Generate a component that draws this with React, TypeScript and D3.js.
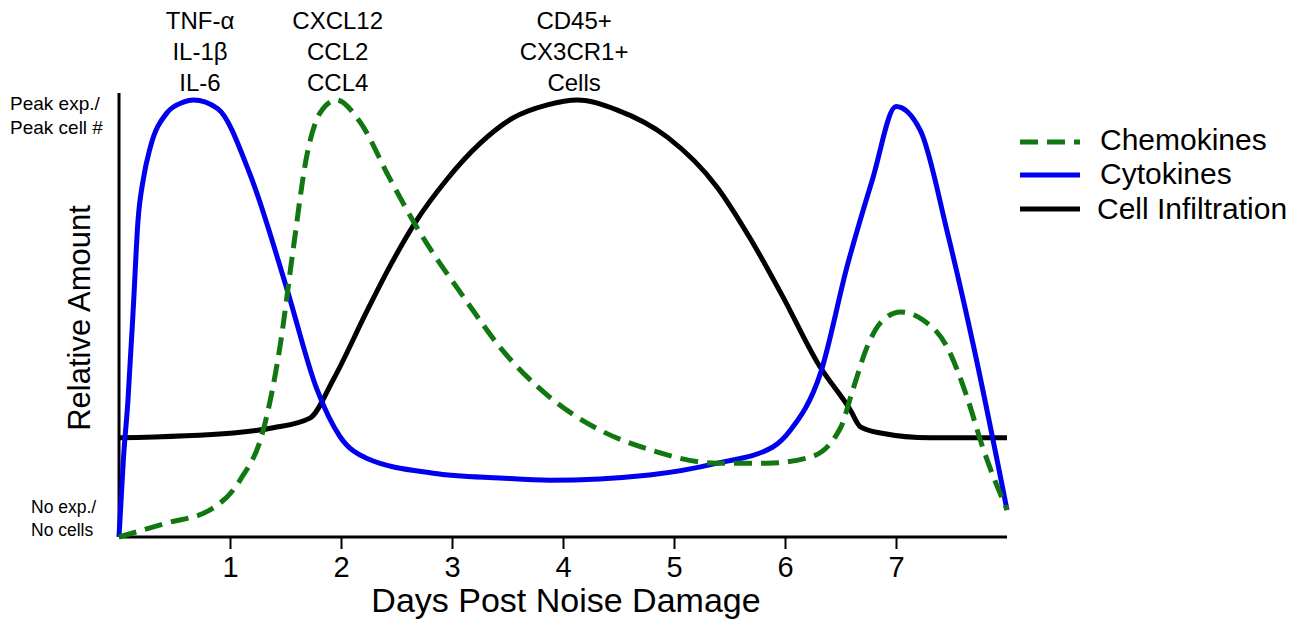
import { useEffect, useRef } from "react";
import * as d3 from "d3";

// values: [day, relative amount 0..1]
const cytokines: [number, number][] = [
  [0, 0], [0.04, 0.18], [0.08, 0.31], [0.13, 0.53], [0.17, 0.72], [0.22, 0.82],
  [0.28, 0.89], [0.43, 0.97], [0.58, 0.995], [0.67, 1.0], [0.89, 0.98],
  [1.18, 0.83], [1.51, 0.57], [1.78, 0.34], [1.99, 0.23], [2.23, 0.18],
  [2.83, 0.146], [3.43, 0.135], [3.88, 0.13], [4.78, 0.142], [5.39, 0.169],
  [5.89, 0.206], [6.05, 0.245], [6.32, 0.375], [6.56, 0.62], [6.79, 0.82],
  [7.0, 0.985], [7.22, 0.93], [7.46, 0.7], [7.7, 0.435], [8.0, 0.062],
];

const chemokines: [number, number][] = [
  [0, 0], [0.43, 0.032], [0.82, 0.062], [1.09, 0.13], [1.3, 0.245], [1.45, 0.435],
  [1.57, 0.66], [1.69, 0.87], [1.81, 0.97], [1.96, 1.0], [2.17, 0.95],
  [2.44, 0.82], [2.68, 0.71], [3.13, 0.54], [3.43, 0.435], [3.88, 0.32],
  [4.33, 0.245], [4.78, 0.2], [5.39, 0.169], [5.84, 0.169], [6.23, 0.183],
  [6.5, 0.25], [6.61, 0.336], [6.74, 0.435], [6.86, 0.49], [7.04, 0.515],
  [7.24, 0.497], [7.46, 0.435], [7.64, 0.32], [7.78, 0.206], [8.0, 0.062],
];

const cellInfiltration: [number, number][] = [
  [0, 0.227], [1.03, 0.238], [1.39, 0.25], [1.72, 0.272], [1.93, 0.36],
  [2.23, 0.515], [2.41, 0.605], [2.67, 0.72], [2.95, 0.817], [3.25, 0.9],
  [3.55, 0.959], [3.86, 0.989], [4.13, 1.0], [4.49, 0.977], [4.94, 0.915],
  [5.39, 0.8], [5.68, 0.686], [5.98, 0.55], [6.29, 0.4], [6.59, 0.29],
  [6.68, 0.252], [6.86, 0.238], [7.31, 0.227], [8.0, 0.227],
];

const dayTicks = [1, 2, 3, 4, 5, 6, 7];

const peakLabels = [
  { day: 0.73, lines: ["TNF-α", "IL-1β", "IL-6"] },
  { day: 1.97, lines: ["CXCL12", "CCL2", "CCL4"] },
  { day: 4.1, lines: ["CD45+", "CX3CR1+", "Cells"] },
];

const legendItems = [
  { name: "Chemokines", color: "#117711", dash: "18,9" },
  { name: "Cytokines", color: "#0000ee", dash: null },
  { name: "Cell Infiltration", color: "#000000", dash: null },
];

const font = "'Liberation Sans', Arial, Helvetica, sans-serif";

const x = d3.scaleLinear().domain([0, 8]).range([119, 1007]);
const y = d3.scaleLinear().domain([0, 1]).range([537, 100]);

const line = d3
  .line<[number, number]>()
  .x((d) => x(d[0]))
  .y((d) => y(d[1]))
  .curve(d3.curveMonotoneX);

export default function App() {
  const xAxisRef = useRef<SVGGElement | null>(null);

  useEffect(() => {
    if (!xAxisRef.current) return;
    const g = d3.select(xAxisRef.current);
    g.call(
      d3
        .axisBottom(x)
        .tickValues(dayTicks)
        .tickSize(12)
        .tickPadding(7)
        .tickFormat((d) => String(d))
    );
    g.select(".domain")
      .attr("d", `M${x(0)},0H${x(8)}`)
      .attr("stroke-width", 3);
    g.selectAll(".tick line").attr("stroke-width", 2);
    g.selectAll(".tick text")
      .attr("font-size", 29)
      .attr("font-family", font)
      .attr("fill", "#000");
  }, []);

  return (
    <svg
      width={1300}
      height={630}
      style={{ position: "absolute", left: 0, top: 0, background: "#fff" }}
      fontFamily={font}
    >
      {/* y axis line */}
      <line x1={x(0)} x2={x(0)} y1={93} y2={y(0)} stroke="#000" strokeWidth={3} />
      <g ref={xAxisRef} transform={`translate(0,${y(0)})`} />

      {/* curves */}
      <path d={line(cellInfiltration) ?? ""} fill="none" stroke="#000" strokeWidth={5} />
      <path d={line(cytokines) ?? ""} fill="none" stroke="#0000ee" strokeWidth={5} />
      <path
        d={line(chemokines) ?? ""}
        fill="none"
        stroke="#117711"
        strokeWidth={5}
        strokeDasharray="18,9"
      />

      {/* y axis end labels */}
      <text x={10} y={110} fontSize={19}>Peak exp./</text>
      <text x={10} y={134} fontSize={19}>Peak cell #</text>
      <text x={31} y={513} fontSize={17.5}>No exp./</text>
      <text x={31} y={536} fontSize={17.5}>No cells</text>

      <text
        transform={`translate(90,${318}) rotate(-90)`}
        textAnchor="middle"
        fontSize={31}
      >
        Relative Amount
      </text>
      <text x={566} y={612} textAnchor="middle" fontSize={34}>
        Days Post Noise Damage
      </text>

      {/* peak annotations */}
      {peakLabels.map((p) => (
        <text key={p.day} textAnchor="middle" fontSize={24}>
          {p.lines.map((l, i) => (
            <tspan key={l} x={x(p.day)} y={29 + i * 31}>
              {l}
            </tspan>
          ))}
        </text>
      ))}

      {/* legend */}
      {legendItems.map((item, i) => {
        const ly = [142, 175, 209][i];
        return (
          <g key={item.name}>
            <line
              x1={1020}
              x2={1080}
              y1={ly}
              y2={ly}
              stroke={item.color}
              strokeWidth={5}
              strokeDasharray={item.dash ?? undefined}
            />
            <text x={i === 2 ? 1097 : 1100} y={[150, 184, 219][i]} fontSize={30}>
              {item.name}
            </text>
          </g>
        );
      })}
    </svg>
  );
}
